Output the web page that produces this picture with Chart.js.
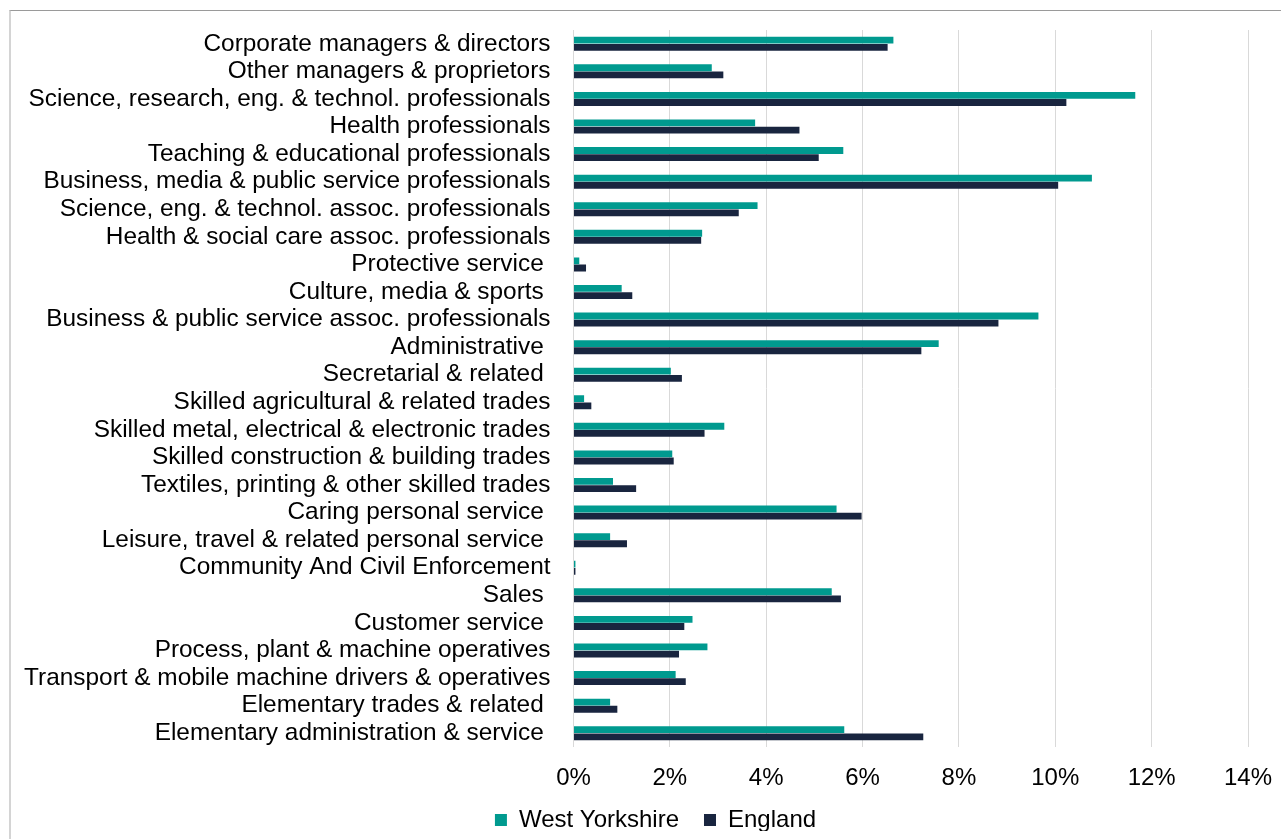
<!DOCTYPE html>
<html>
<head>
<meta charset="utf-8">
<script src="https://cdn.jsdelivr.net/npm/chart.js@4/dist/chart.umd.min.js"></script>
<style>
  html, body { margin: 0; padding: 0; background: #fff; overflow: hidden; }
  #frame {
    position: absolute; left: 9px; top: 10px; width: 1400px; height: 900px;
    border-top: 1px solid #9a9a9a; border-left: 2px solid #d4d4d4;
  }
  #myChart { position: absolute; left: 0; top: 0; }
</style>
</head>
<body>
<div id="frame"></div>
<canvas id="myChart" width="1281" height="839"></canvas>
<script>
// occupations (trailing spaces kept as in the source sheet)
const occupations = [
    'Corporate managers & directors',
    'Other managers & proprietors',
    'Science, research, eng. & technol. professionals',
    'Health professionals',
    'Teaching & educational professionals',
    'Business, media & public service professionals',
    'Science, eng. & technol. assoc. professionals',
    'Health & social care assoc. professionals',
    'Protective service ',
    'Culture, media & sports ',
    'Business & public service assoc. professionals',
    'Administrative ',
    'Secretarial & related ',
    'Skilled agricultural & related trades',
    'Skilled metal, electrical & electronic trades',
    'Skilled construction & building trades',
    'Textiles, printing & other skilled trades',
    'Caring personal service ',
    'Leisure, travel & related personal service ',
    'Community And Civil Enforcement',
    'Sales ',
    'Customer service ',
    'Process, plant & machine operatives',
    'Transport & mobile machine drivers & operatives',
    'Elementary trades & related ',
    'Elementary administration & service '
];

// share of employment, %
const westYorkshire = [
    6.64, 2.87, 11.66, 3.77, 5.60, 10.76, 3.82, 2.67, 0.12, 1.00, 9.65, 7.58, 2.02,
    0.22, 3.13, 2.05, 0.82, 5.46, 0.76, 0.04, 5.36, 2.47, 2.78, 2.12, 0.76, 5.62
];
const england = [
    6.52, 3.11, 10.23, 4.69, 5.09, 10.06, 3.43, 2.65, 0.26, 1.22, 8.82, 7.22, 2.25,
    0.37, 2.72, 2.08, 1.30, 5.98, 1.11, 0.04, 5.55, 2.30, 2.19, 2.33, 0.91, 7.26
];

const xTicks = [0, 2, 4, 6, 8, 10, 12, 14];

const family = '"Liberation Sans", Arial, sans-serif';
const font = { family: family, size: 24 };

// nudge the legend: centred under the whole frame, a bit closer to the axis
const legendShift = {
    id: 'legendShift',
    afterLayout: chart => {
        const lg = chart.legend;
        lg.left += 26.5;
        lg.right += 26.5;
        lg.top -= 8;
        lg.bottom -= 8;
    }
};

const ctx = document.getElementById('myChart');

new Chart(ctx, {
    type: 'bar',
    data: {
        labels: occupations,
        datasets: [
            {
                label: 'West Yorkshire',
                data: westYorkshire,
                backgroundColor: '#009A8F',
                categoryPercentage: 0.52,
                barPercentage: 0.95
            },
            {
                label: 'England',
                data: england,
                backgroundColor: '#19253F',
                categoryPercentage: 0.52,
                barPercentage: 0.95
            }
        ]
    },
    plugins: [legendShift],
    options: {
        responsive: false,
        animation: false,
        indexAxis: 'y',
        layout: {
            padding: { top: 30, right: 33, left: 10, bottom: 0 }
        },
        plugins: {
            tooltip: { enabled: false },
            legend: {
                position: 'bottom',
                maxHeight: 48,
                labels: {
                    color: '#000',
                    font: font,
                    boxWidth: 12,
                    boxHeight: 12,
                    padding: 25
                }
            }
        },
        scales: {
            x: {
                min: xTicks[0],
                max: xTicks[xTicks.length - 1],
                afterBuildTicks: scale => {
                    scale.ticks = xTicks.map(v => ({ value: v }));
                },
                afterFit: scale => {
                    scale.height = 44;
                    scale.paddingLeft = 0;
                    scale.paddingRight = 0;
                },
                ticks: {
                    color: '#000',
                    font: font,
                    padding: 17,
                    maxRotation: 0,
                    callback: v => v + '%'
                },
                grid: { color: '#d9d9d9', lineWidth: 1, drawTicks: false },
                border: { display: false }
            },
            y: {
                afterFit: scale => {
                    scale.width = 563.5;
                    scale.paddingTop = 0;
                    scale.paddingBottom = 0;
                },
                ticks: {
                    color: '#000',
                    font: { family: family, size: 24.4 },
                    padding: 23,
                    autoSkip: false
                },
                grid: { display: false, drawTicks: false },
                border: { display: false }
            }
        }
    }
});
</script>
</body>
</html>
